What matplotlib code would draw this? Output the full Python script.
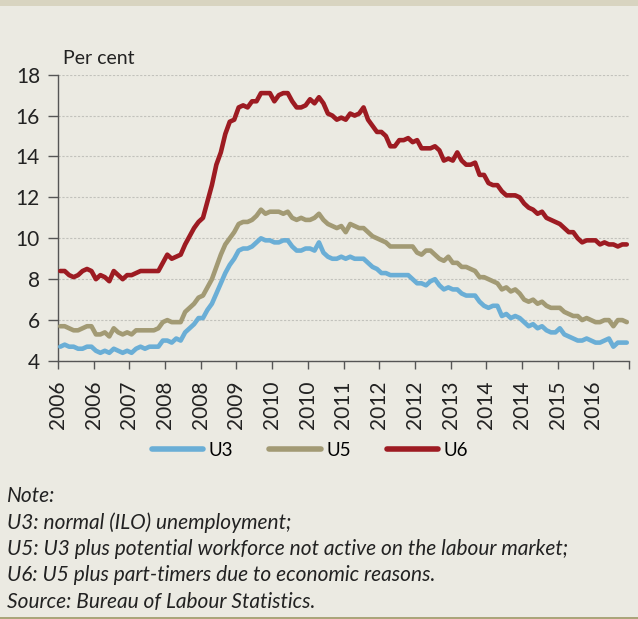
import matplotlib
matplotlib.use("Agg")
import matplotlib.pyplot as plt
from matplotlib.lines import Line2D
import numpy as np

plt.rcParams['font.family'] = ['Lato', 'DejaVu Sans']

# Monthly data, Jan 2006 - Aug 2016 (per cent)
u3 = [4.7,4.8,4.7,4.7,4.6,4.6,4.7,4.7,4.5,4.4,4.5,4.4,
      4.6,4.5,4.4,4.5,4.4,4.6,4.7,4.6,4.7,4.7,4.7,5.0,
      5.0,4.9,5.1,5.0,5.4,5.6,5.8,6.1,6.1,6.5,6.8,7.3,
      7.8,8.3,8.7,9.0,9.4,9.5,9.5,9.6,9.8,10.0,9.9,9.9,
      9.8,9.8,9.9,9.9,9.6,9.4,9.4,9.5,9.5,9.4,9.8,9.3,
      9.1,9.0,9.0,9.1,9.0,9.1,9.0,9.0,9.0,8.8,8.6,8.5,
      8.3,8.3,8.2,8.2,8.2,8.2,8.2,8.0,7.8,7.8,7.7,7.9,
      8.0,7.7,7.5,7.6,7.5,7.5,7.3,7.2,7.2,7.2,6.9,6.7,
      6.6,6.7,6.7,6.2,6.3,6.1,6.2,6.1,5.9,5.7,5.8,5.6,
      5.7,5.5,5.4,5.4,5.6,5.3,5.2,5.1,5.0,5.0,5.1,5.0,
      4.9,4.9,5.0,5.1,4.7,4.9,4.9,4.9]
u5 = [5.7,5.7,5.6,5.5,5.5,5.6,5.7,5.7,5.3,5.3,5.4,5.2,
      5.6,5.4,5.3,5.4,5.3,5.5,5.5,5.5,5.5,5.5,5.6,5.9,
      6.0,5.9,5.9,5.9,6.4,6.6,6.8,7.1,7.2,7.6,8.0,8.6,
      9.2,9.7,10.0,10.3,10.7,10.8,10.8,10.9,11.1,11.4,11.2,11.3,
      11.3,11.3,11.2,11.3,11.0,10.9,11.0,10.9,10.9,11.0,11.2,10.9,
      10.7,10.6,10.5,10.6,10.3,10.7,10.6,10.5,10.5,10.3,10.1,10.0,
      9.9,9.8,9.6,9.6,9.6,9.6,9.6,9.6,9.3,9.2,9.4,9.4,
      9.2,9.0,8.9,9.1,8.8,8.8,8.6,8.6,8.5,8.4,8.1,8.1,
      8.0,7.9,7.8,7.5,7.6,7.4,7.5,7.3,7.0,6.9,7.0,6.8,
      6.9,6.7,6.6,6.6,6.6,6.4,6.3,6.2,6.2,6.0,6.1,6.0,
      5.9,5.9,6.0,6.0,5.7,6.0,6.0,5.9]
u6 = [8.4,8.4,8.2,8.1,8.2,8.4,8.5,8.4,8.0,8.2,8.1,7.9,
      8.4,8.2,8.0,8.2,8.2,8.3,8.4,8.4,8.4,8.4,8.4,8.8,
      9.2,9.0,9.1,9.2,9.7,10.1,10.5,10.8,11.0,11.8,12.6,13.6,
      14.2,15.1,15.7,15.8,16.4,16.5,16.4,16.7,16.7,17.1,17.1,17.1,
      16.7,17.0,17.1,17.1,16.7,16.4,16.4,16.5,16.8,16.6,16.9,16.6,
      16.1,16.0,15.8,15.9,15.8,16.1,16.0,16.1,16.4,15.8,15.5,15.2,
      15.2,15.0,14.5,14.5,14.8,14.8,14.9,14.7,14.8,14.4,14.4,14.4,
      14.5,14.3,13.8,13.9,13.8,14.2,13.8,13.6,13.6,13.7,13.1,13.1,
      12.7,12.6,12.6,12.3,12.1,12.1,12.1,12.0,11.7,11.5,11.4,11.2,
      11.3,11.0,10.9,10.8,10.7,10.5,10.3,10.3,10.0,9.8,9.9,9.9,
      9.9,9.7,9.8,9.7,9.7,9.6,9.7,9.7]
start_year = 2006
tick_every = 8
series_names = ["U3", "U5", "U6"]
notes = ["Note:",
         "U3: normal (ILO) unemployment;",
         "U5: U3 plus potential workforce not active on the labour market;",
         "U6: U5 plus part-timers due to economic reasons.",
         "Source: Bureau of Labour Statistics."]

W, H = 638, 619
bg = "#ebeae2"
colors = ["#6aaed6", "#a29a74", "#9d1b22"]

fig = plt.figure(figsize=(W/100, H/100), dpi=100, facecolor=bg)
# top band and bottom rule
fig.patches.append(plt.Rectangle((0, 1-6/H), 1, 6/H, transform=fig.transFigure,
                                 facecolor="#d8d4c0", edgecolor="none"))
fig.patches.append(plt.Rectangle((0, 0), 1, 2/H, transform=fig.transFigure,
                                 facecolor="#aaa57a", edgecolor="none"))

ax = fig.add_axes([58/W, 1-361/H, (629-58)/W, (361-74.7)/H])
ax.set_facecolor(bg)
n = len(u3)
x = np.arange(n)
for vals, c in zip([u3, u5, u6], colors):
    ax.plot(x, vals, color=c, lw=3.3, solid_joinstyle="round", solid_capstyle="round", zorder=3)

ax.set_xlim(-0.5, n - 0.5)
ax.set_ylim(4, 18)
ax.set_yticks(np.arange(4, 19, 2))
ax.yaxis.grid(True, color="#c2c2bc", linestyle=(0, (2, 1.5)), lw=0.8)
ax.set_axisbelow(True)

ticks = np.arange(0, n + 1, tick_every) - 0.5
labels = []
for t in np.arange(0, n + 1, tick_every):
    labels.append(str(start_year + t // 12) if t < n - tick_every + 1 else "")
ax.set_xticks(ticks)
ax.set_xticklabels(labels, rotation=90, fontsize=15, color="#222222")
ax.tick_params(axis="x", length=6, width=1, color="#555555", pad=8)
ax.tick_params(axis="y", length=7, width=1, color="#555555", labelsize=15,
               labelcolor="#222222", pad=6)
for s in ["top", "right"]:
    ax.spines[s].set_visible(False)
for s in ["left", "bottom"]:
    ax.spines[s].set_color("#555555")
    ax.spines[s].set_linewidth(1)

fig.text(63/W, 1-58/H, "Per cent", fontsize=14, color="#222222", va="center", ha="left")

handles = [Line2D([0], [0], color=c, lw=4, solid_capstyle="round") for c in colors]
fig.legend(handles, series_names, loc="center", bbox_to_anchor=(310/W, 1-450/H),
           ncol=3, frameon=False, fontsize=13.5, handlelength=2.75, handletextpad=0.3,
           columnspacing=1.9, borderpad=0, borderaxespad=0)

ys = [496, 523, 549, 575, 602]
for t, yy in zip(notes, ys):
    fig.text(7/W, 1-yy/H, t, fontsize=15, style="italic", color="#222222",
             va="center", ha="left")

fig.savefig("out.png", dpi=100, facecolor=bg)
